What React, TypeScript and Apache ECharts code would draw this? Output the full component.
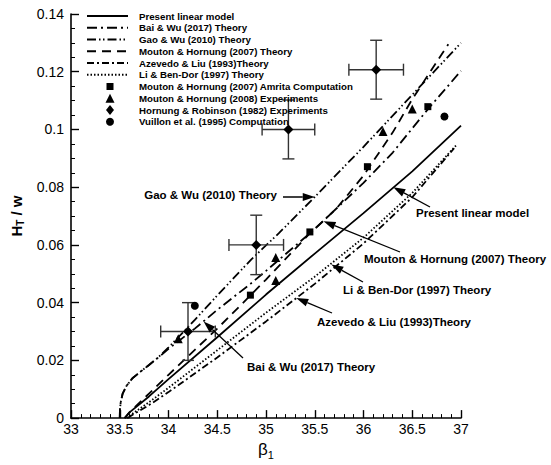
import React, { useEffect, useRef } from "react";
import * as echarts from "echarts";

// ---- data (beta_1, H_T/w) ----
const presentLinear = [
  [33.55, 0], [33.6, 0.002], [33.8, 0.0075], [34.0, 0.0135], [34.5, 0.028],
  [35.0, 0.0428], [35.5, 0.057], [36.0, 0.071], [36.5, 0.0855], [37.0, 0.1013],
];
const baiWu2017 = [
  [33.5, 0], [33.502, 0.003], [33.51, 0.0055], [33.53, 0.0085], [33.57, 0.0112],
  [33.63, 0.0138], [33.71, 0.016], [33.8, 0.0184], [33.9, 0.0211], [34.0, 0.024],
  [34.27, 0.031], [34.5, 0.0375], [34.84, 0.0465], [35.0, 0.051], [35.5, 0.0655],
  [36.0, 0.0815], [36.3, 0.092], [36.64, 0.1062], [37.0, 0.1203],
];
const gaoWu2010 = [
  [33.5, 0], [33.502, 0.003], [33.51, 0.0055], [33.53, 0.0085], [33.57, 0.0112],
  [33.63, 0.0138], [33.71, 0.016], [33.8, 0.0184], [33.9, 0.0212], [34.0, 0.0245],
  [34.27, 0.034], [34.5, 0.0425], [34.85, 0.055], [35.13, 0.064], [35.5, 0.0766],
  [36.0, 0.094], [36.5, 0.112], [37.0, 0.13],
];
const moutonTheory2007 = [
  [33.55, 0], [33.6, 0.002], [33.8, 0.0085], [34.0, 0.015], [34.5, 0.031],
  [34.84, 0.0425], [35.0, 0.048], [35.45, 0.064], [35.72, 0.0725], [36.0, 0.084],
  [36.3, 0.099], [36.5, 0.1105], [36.87, 0.1295],
];
const azevedoLiu1993 = [
  [33.58, 0], [33.65, 0.0015], [33.8, 0.0045], [34.0, 0.009], [34.5, 0.021],
  [35.0, 0.0335], [35.5, 0.0465], [36.0, 0.0605], [36.5, 0.0765], [36.93, 0.0935],
];
const liBenDor1997 = [
  [33.57, 0], [33.65, 0.002], [33.8, 0.0055], [34.0, 0.0105], [34.5, 0.0235],
  [35.0, 0.0365], [35.5, 0.049], [36.0, 0.0625], [36.5, 0.078], [36.95, 0.0945],
];
const amritaComputation = [
  [34.84, 0.0426], [35.45, 0.0645], [36.04, 0.0871], [36.66, 0.1079],
];
const moutonExperiments = [
  [34.1, 0.0275], [35.1, 0.0477], [35.1, 0.0556], [36.2, 0.0993], [36.5, 0.1071],
];
const hornungX = [34.2, 34.9, 35.23, 36.13];
const hornungY = [0.03, 0.06, 0.1, 0.1207];
const hornungXErr = [0.28, 0.28, 0.27, 0.28];
const hornungYErr = [0.01, 0.0103, 0.0102, 0.0102];
const vuillonComputation = [
  [34.27, 0.0389], [36.83, 0.1045],
];
const xTicks = { min: 33, max: 37, interval: 0.5 };
const yTicks = { min: 0, max: 0.14, interval: 0.02 };

const FONT = "'Liberation Sans', Arial, Helvetica, sans-serif";

const legendLines = [
  { name: "Present linear model", dash: null as number[] | null },
  { name: "Bai & Wu (2017) Theory", dash: [10, 4, 2, 4] },
  { name: "Gao & Wu (2010) Theory", dash: [9, 3, 1.5, 2.5, 1.5, 3] },
  { name: "Mouton & Hornung (2007) Theory", dash: [9, 6] },
  { name: "Azevedo & Liu (1993)Theory", dash: [7, 3, 2, 3] },
  { name: "Li & Ben-Dor (1997) Theory", dash: [1.5, 2] },
];
const legendMarkers = [
  { name: "Mouton & Hornung (2007) Amrita Computation", symbol: "rect", size: 7 },
  { name: "Mouton & Hornung (2008) Experiments", symbol: "triangle", size: 9 },
  { name: "Hornung & Robinson (1982) Experiments", symbol: "diamond", size: 10 },
  { name: "Vuillon et al. (1995) Computation", symbol: "circle", size: 8 },
];

function arrow(tail: number[], tip: number[]) {
  const dx = tip[0] - tail[0];
  const dy = tip[1] - tail[1];
  const len = Math.hypot(dx, dy) || 1;
  const ux = dx / len, uy = dy / len;
  const L = 12, W = 4;
  const bx = tip[0] - ux * L, by = tip[1] - uy * L;
  return [
    {
      type: "line",
      shape: { x1: tail[0], y1: tail[1], x2: bx, y2: by },
      style: { stroke: "#000", lineWidth: 1.3 },
      z: 50,
    },
    {
      type: "polygon",
      shape: { points: [[tip[0], tip[1]], [bx - uy * W, by + ux * W], [bx + uy * W, by - ux * W]] },
      style: { fill: "#000" },
      z: 50,
    },
  ];
}

export default function App() {
  const ref = useRef<HTMLDivElement>(null);
  useEffect(() => {
    if (!ref.current) return;
    const chart = echarts.init(ref.current, undefined, { renderer: "svg" });
    const lineSeries = (name: string, data: number[][], dash: any) => ({
      type: "line",
      name,
      data,
      showSymbol: false,
      symbol: "none",
      smooth: false,
      lineStyle: { color: "#000", width: 1.8, type: dash || "solid" },
      z: 5,
    });
    const hornung = hornungX.map((x, i) => [x, hornungY[i], hornungXErr[i], hornungYErr[i]]);
    const mk = { color: "#000", opacity: 1 };
    chart.setOption({
      animation: false,
      grid: { left: 71, right: 90, top: 14, bottom: 40 },
      xAxis: {
        type: "value",
        min: xTicks.min,
        max: xTicks.max,
        interval: xTicks.interval,
        name: "{a|β}{b|1}",
        nameLocation: "middle",
        nameGap: 16,
        nameTextStyle: {
          rich: {
            a: { fontSize: 17, fontFamily: FONT, color: "#000" },
            b: { fontSize: 11, fontFamily: FONT, color: "#000", padding: [10, 0, 0, 0] },
          },
        },
        axisLine: { lineStyle: { color: "#000", width: 1.6 } },
        axisTick: { inside: true, length: 8, lineStyle: { color: "#000", width: 1.4 } },
        minorTick: { show: true, splitNumber: 5, length: 4, lineStyle: { color: "#000", width: 1 } },
        axisLabel: {
          color: "#000", fontSize: 14, fontFamily: FONT, margin: 4,
          formatter: (v: number) => String(parseFloat(v.toFixed(2))),
        },
        splitLine: { show: false },
      },
      yAxis: {
        type: "value",
        min: yTicks.min,
        max: yTicks.max,
        interval: yTicks.interval,
        name: "{a|H}{b|T}{a| / w}",
        nameLocation: "middle",
        nameRotate: 90,
        nameGap: 25,
        nameTextStyle: {
          rich: {
            a: { fontSize: 15, fontWeight: "bold", fontFamily: FONT, color: "#000" },
            b: { fontSize: 10, fontWeight: "bold", fontFamily: FONT, color: "#000", padding: [9, 0, 0, 0] },
          },
        },
        axisLine: { lineStyle: { color: "#000", width: 1.6 } },
        axisTick: { inside: true, length: 8, lineStyle: { color: "#000", width: 1.4 } },
        minorTick: { show: true, splitNumber: 4, length: 4, lineStyle: { color: "#000", width: 1 } },
        axisLabel: {
          color: "#000", fontSize: 14, fontFamily: FONT, margin: 7,
          formatter: (v: number) => String(parseFloat(v.toFixed(2))),
        },
        splitLine: { show: false },
      },
      series: [
        lineSeries(legendLines[0].name, presentLinear, null),
        lineSeries(legendLines[1].name, baiWu2017, legendLines[1].dash),
        lineSeries(legendLines[2].name, gaoWu2010, legendLines[2].dash),
        lineSeries(legendLines[3].name, moutonTheory2007, legendLines[3].dash),
        lineSeries(legendLines[4].name, azevedoLiu1993, legendLines[4].dash),
        lineSeries(legendLines[5].name, liBenDor1997, legendLines[5].dash),
        {
          type: "custom",
          name: "errorbars",
          data: hornung,
          z: 6,
          renderItem: (_p: any, api: any) => {
            const x = api.value(0), y = api.value(1), ex = api.value(2), ey = api.value(3);
            const l = api.coord([x - ex, y]);
            const r = api.coord([x + ex, y]);
            const t = api.coord([x, y + ey]);
            const b = api.coord([x, y - ey]);
            const cap = 6;
            const st = { stroke: "#333", lineWidth: 1.4 };
            return {
              type: "group",
              children: [
                { type: "line", shape: { x1: l[0], y1: l[1], x2: r[0], y2: r[1] }, style: st },
                { type: "line", shape: { x1: t[0], y1: t[1], x2: b[0], y2: b[1] }, style: st },
                { type: "line", shape: { x1: l[0], y1: l[1] - cap, x2: l[0], y2: l[1] + cap }, style: st },
                { type: "line", shape: { x1: r[0], y1: r[1] - cap, x2: r[0], y2: r[1] + cap }, style: st },
                { type: "line", shape: { x1: t[0] - cap, y1: t[1], x2: t[0] + cap, y2: t[1] }, style: st },
                { type: "line", shape: { x1: b[0] - cap, y1: b[1], x2: b[0] + cap, y2: b[1] }, style: st },
              ],
            };
          },
        },
        {
          type: "scatter", name: legendMarkers[0].name, data: amritaComputation,
          symbol: "rect", symbolSize: 7, itemStyle: mk, z: 8,
        },
        {
          type: "scatter", name: legendMarkers[1].name, data: moutonExperiments,
          symbol: "triangle", symbolSize: 9, itemStyle: mk, z: 8,
        },
        {
          type: "scatter", name: legendMarkers[2].name, data: hornung.map((d) => [d[0], d[1]]),
          symbol: "diamond", symbolSize: 10, itemStyle: mk, z: 8,
        },
        {
          type: "scatter", name: legendMarkers[3].name, data: vuillonComputation,
          symbol: "circle", symbolSize: 8, itemStyle: mk, z: 8,
        },
      ],
    });

    // legend + annotations
    const g: any[] = [];
    const rowY0 = 16, rowStep = 11.75, lx0 = 87, lx1 = 128, tx = 139;
    legendLines.forEach((it, i) => {
      const y = rowY0 + i * rowStep;
      g.push({
        type: "line",
        shape: { x1: lx0, y1: y, x2: lx1, y2: y },
        style: { stroke: "#000", lineWidth: 1.8, lineDash: it.dash || undefined },
        z: 60,
      });
      g.push({
        type: "text", x: tx, y, z: 60,
        style: { text: it.name, fill: "#000", font: `bold 9.7px ${FONT}`, verticalAlign: "middle", align: "left" },
      });
    });
    legendMarkers.forEach((it, j) => {
      const y = rowY0 + (legendLines.length + j) * rowStep;
      const cx = 110, s = it.size / 2;
      let shape: any;
      if (it.symbol === "rect") shape = { type: "rect", shape: { x: cx - s, y: y - s, width: it.size, height: it.size } };
      else if (it.symbol === "circle") shape = { type: "circle", shape: { cx, cy: y, r: s } };
      else if (it.symbol === "triangle") shape = { type: "polygon", shape: { points: [[cx, y - s], [cx + s, y + s], [cx - s, y + s]] } };
      else shape = { type: "polygon", shape: { points: [[cx, y - s], [cx + s * 0.8, y], [cx, y + s], [cx - s * 0.8, y]] } };
      g.push({ ...shape, style: { fill: "#000" }, z: 60 });
      g.push({
        type: "text", x: tx, y, z: 60,
        style: { text: it.name, fill: "#000", font: `bold 9.7px ${FONT}`, verticalAlign: "middle", align: "left" },
      });
    });

    const annotations = [
      { text: "Gao & Wu (2010) Theory", tx: 277, ty: 195, align: "right", tail: [283, 197], tip: [35.5, 0.0766] },
      { text: "Present linear model", tx: 416, ty: 213, align: "left", tail: [430, 207], tip: [36.306, 0.08] },
      { text: "Mouton & Hornung (2007) Theory", tx: 364, ty: 259, align: "left", tail: [400, 252], tip: [35.59, 0.0682] },
      { text: "Li & Ben-Dor (1997) Theory", tx: 343, ty: 290, align: "left", tail: [363, 282], tip: [35.67, 0.0532] },
      { text: "Azevedo & Liu (1993)Theory", tx: 317, ty: 322, align: "left", tail: [332, 313], tip: [35.31, 0.0416] },
      { text: "Bai & Wu (2017) Theory", tx: 247, ty: 367, align: "left", tail: [243, 358], tip: [34.36, 0.0335] },
    ];
    annotations.forEach((a) => {
      const tipPx = chart.convertToPixel({ gridIndex: 0 }, a.tip) as number[];
      g.push(...arrow(a.tail, tipPx));
      g.push({
        type: "text", x: a.tx, y: a.ty, z: 60,
        style: { text: a.text, fill: "#000", font: `bold 11.5px ${FONT}`, verticalAlign: "middle", align: a.align },
      });
    });
    chart.setOption({ graphic: g });

    return () => chart.dispose();
  }, []);
  return (
    <div
      ref={ref}
      style={{ position: "absolute", left: 0, top: 0, width: 551, height: 465 }}
    />
  );
}
